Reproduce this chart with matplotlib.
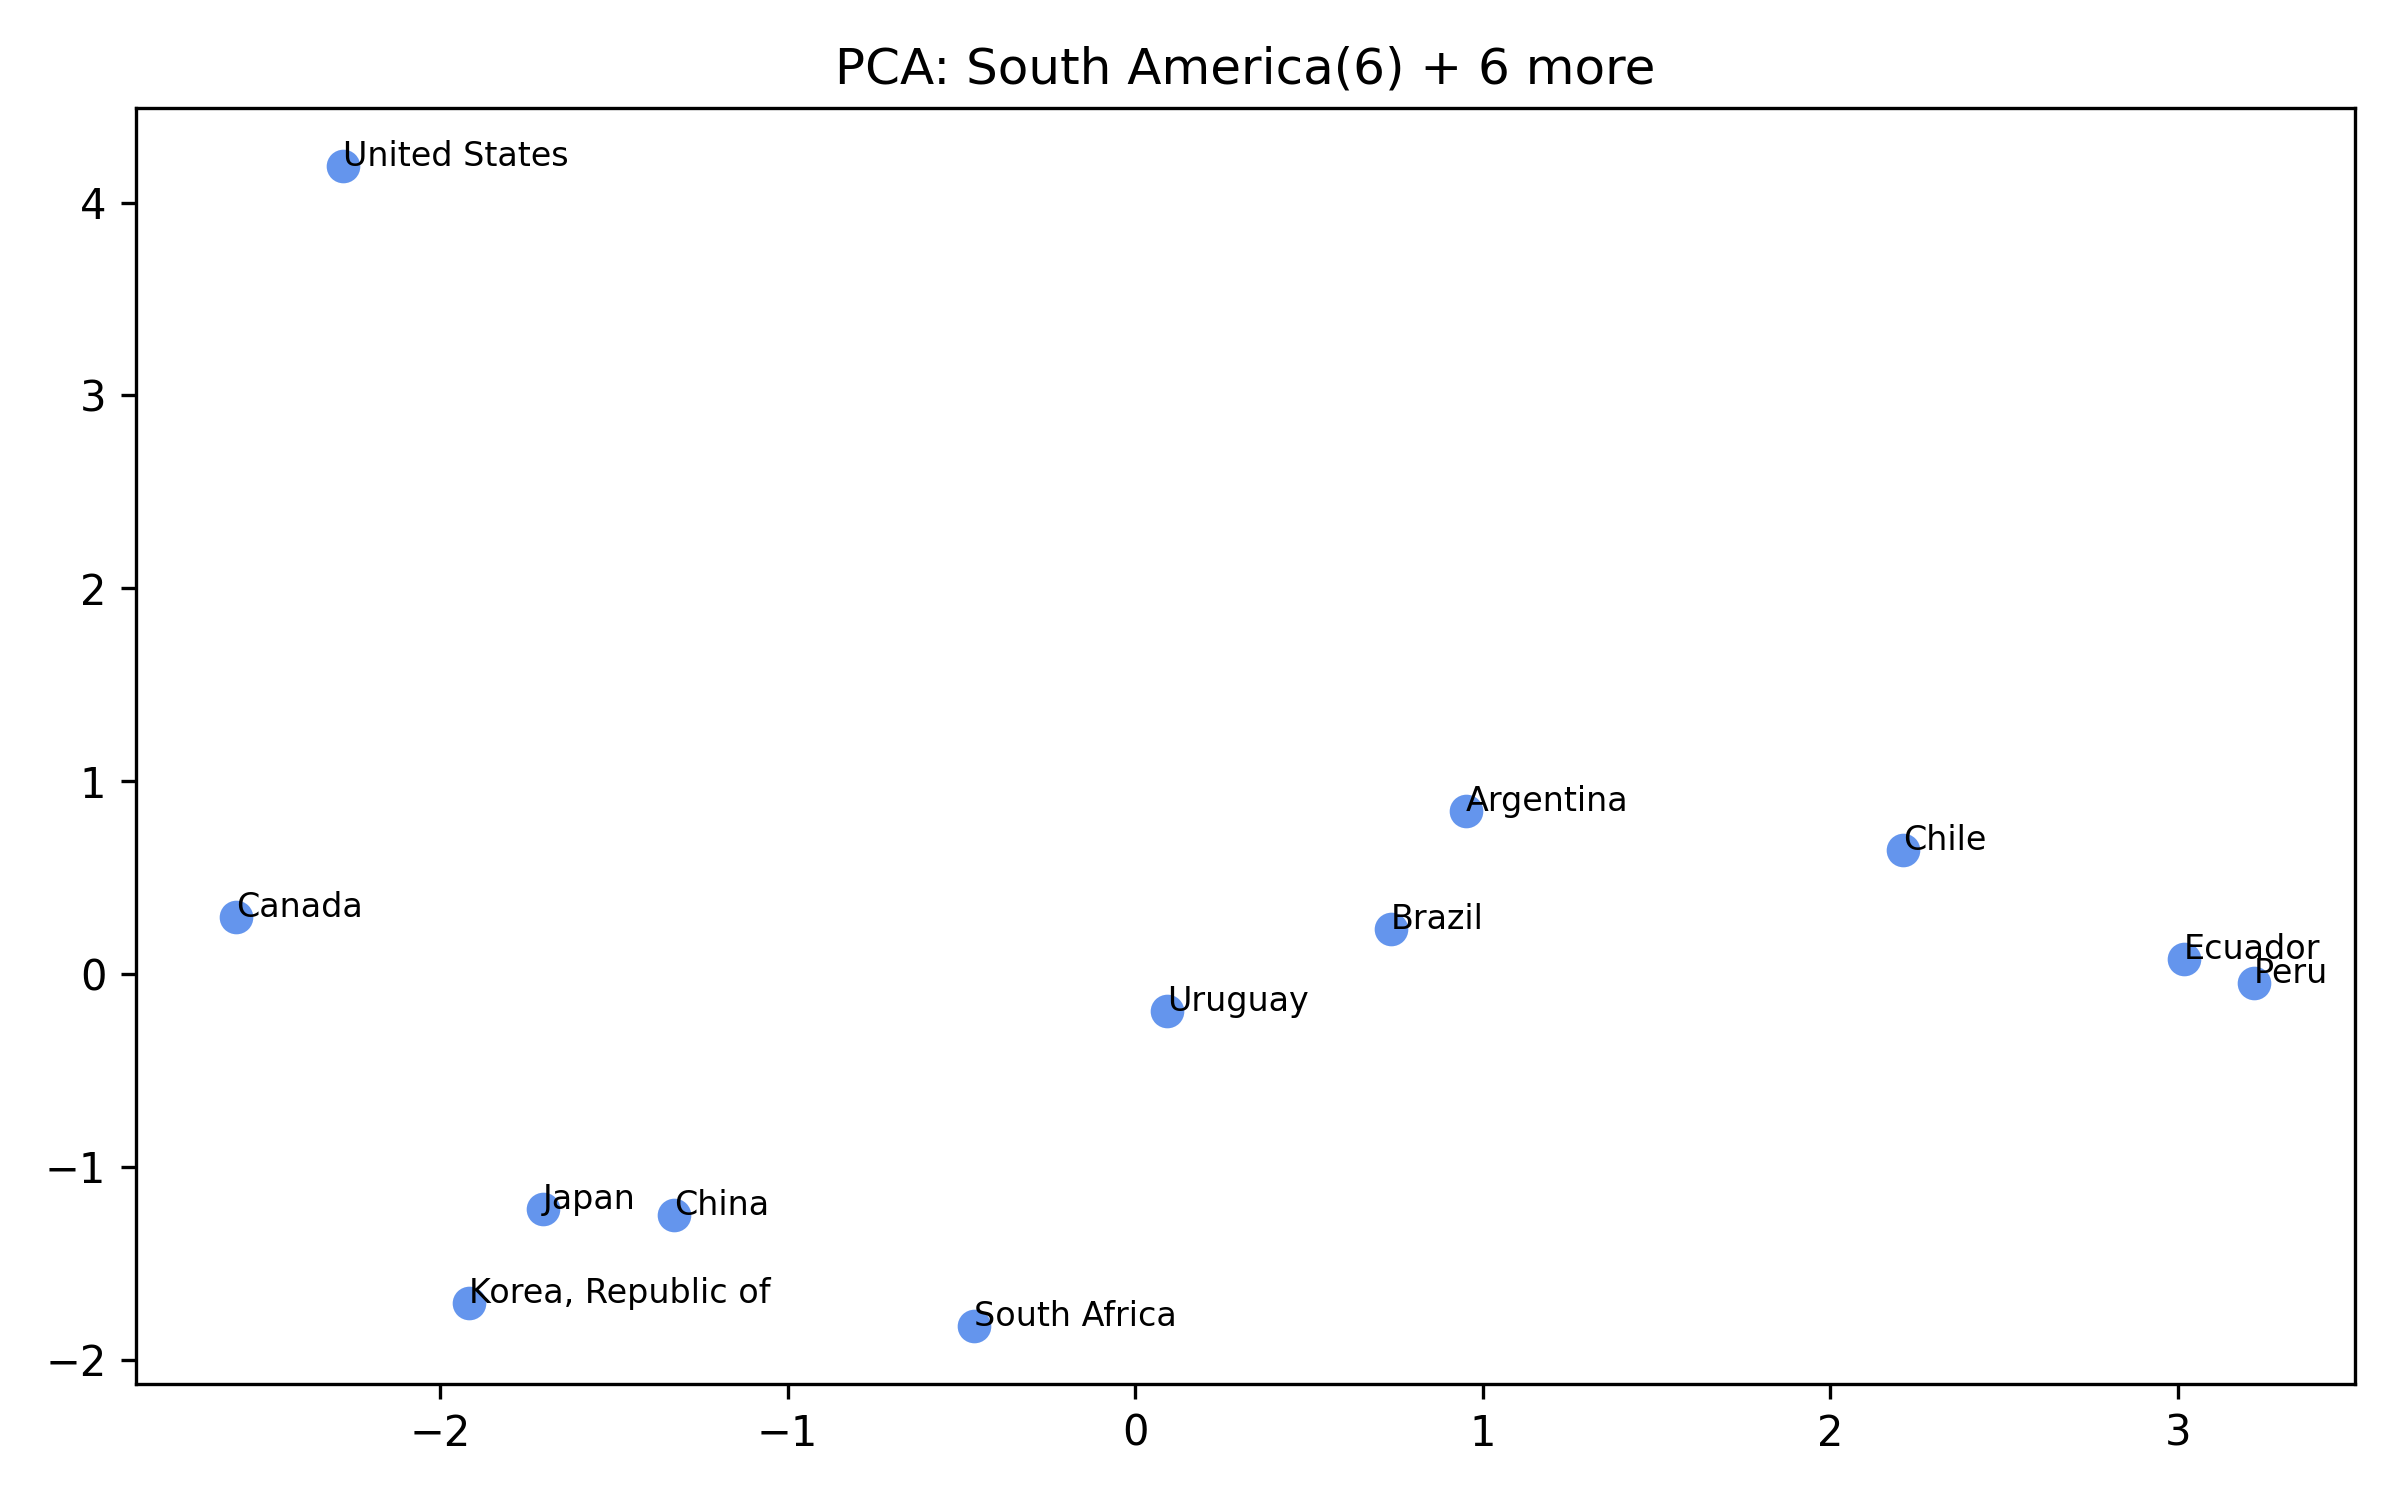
import matplotlib
matplotlib.use("Agg")
import matplotlib.pyplot as plt

# Country labels and PCA coordinates (PC1, PC2)
paesi = ["United States", "Canada", "Argentina", "Chile", "Brazil", "Uruguay",
         "Ecuador", "Peru", "Japan", "China", "Korea, Republic of", "South Africa"]
pc1 = [-2.278, -2.586, 0.952, 2.211, 0.736, 0.093,
       3.018, 3.220, -1.705, -1.326, -1.916, -0.463]
pc2 = [4.19, 0.295, 0.845, 0.645, 0.231, -0.191,
       0.080, -0.048, -1.219, -1.251, -1.705, -1.825]

fig, ax = plt.subplots(figsize=(8, 5), dpi=300)
ax.scatter(pc1, pc2, s=50, color="cornflowerblue")
for nome, x, y in zip(paesi, pc1, pc2):
    ax.text(x, y, nome, fontsize=8)
ax.set_title("PCA: South America(6) + 6 more")
fig.tight_layout()
fig.savefig("out.png")
